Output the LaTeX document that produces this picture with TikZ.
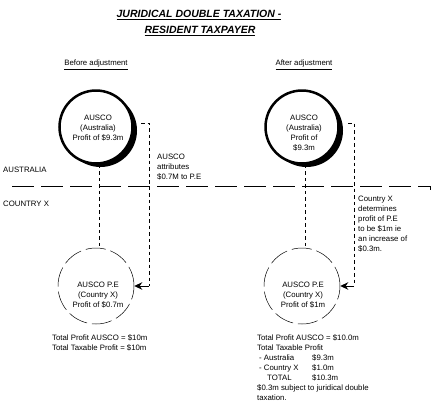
\documentclass[tikz,border=0pt]{standalone}
\usepackage{fontspec}
\setmainfont{Liberation Sans}
\usetikzlibrary{arrows.meta,positioning,shadows}
\tikzset{
  hd/.style  ={font=\fontsize{10.5}{15.5}\selectfont\bfseries\itshape, inner sep=0pt},
  sub/.style ={font=\fontsize{7.8}{10}\selectfont, inner sep=0pt},
  txt/.style ={font=\fontsize{7.8}{10}\selectfont, align=left, inner sep=0pt},
  ctr/.style ={font=\fontsize{7.8}{10}\selectfont, align=center, inner sep=0pt},
  co/.style  ={circle, draw, line width=2.5pt, fill=white, minimum size=73pt, inner sep=0pt,
                drop shadow={shadow xshift=4.5pt, shadow yshift=-3.5pt, fill=black, opacity=1}},
  pe/.style  ={circle, draw, line width=0.5pt, dash pattern=on 20pt off 5pt,
                minimum size=76pt, inner sep=0pt},
  dl/.style  ={line width=0.6pt, dash pattern=on 3.5pt off 3pt},
  fl/.style  ={-{Stealth[length=8pt,width=7.5pt]}, line width=0.9pt},
  bd/.style  ={line width=0.9pt, dash pattern=on 22pt off 7pt},
}
\begin{document}
\begin{tikzpicture}[x=1pt,y=-1pt]
\useasboundingbox (0,0) rectangle (434,410);
\node[hd, anchor=base] (t1) at (199,17.8) {\underline{JURIDICAL DOUBLE TAXATION -}};
\node[hd, anchor=base] (t2) at (200,33.3) {\underline{RESIDENT TAXPAYER}};
\node[sub, anchor=base] (h1) at (96,65.7) {\underline{Before adjustment}};
\node[sub, anchor=base] (h2) at (304,65.7) {\underline{After adjustment}};
\node[sub, anchor=west] (au) at (3,170) {AUSTRALIA};
\node[sub, anchor=west] (cx) at (3,204) {COUNTRY X};
\draw[bd] (12,186) -- (430,186);
\draw[line width=0.9pt] (430,186) -- (430,190);
\node[co] (a1) at (96,127) {};
\node[co] (a2) at (302,127) {};
\node[ctr] (a1t) at (98,128.5) {AUSCO\\(Australia)\\Profit of \$9.3m};
\node[ctr] (a2t) at (304,133) {AUSCO\\(Australia)\\Profit of\\\$9.3m};
\node[pe] (p1) at (96,286) {};
\node[pe] (p2) at (302,286) {};
\node[ctr] (p1t) at (98,295) {AUSCO P.E\\(Country X)\\Profit of \$0.7m};
\node[ctr] (p2t) at (303,295) {AUSCO P.E\\(Country X)\\Profit of \$1m};
\draw[dl] ([xshift=3pt]a1.south) -- ([xshift=3pt]p1.north);
\draw[dl] ([xshift=3pt]a2.south) -- ([xshift=3pt]p2.north);
\coordinate (b1) at (141,123);
\coordinate (k1) at (149,286);
\draw[dl] (b1) -| (k1);
\draw[fl] (k1) -- (p1.east);
\coordinate (b2) at (348,123);
\coordinate (k2) at (354,286);
\draw[dl] (b2) -| (k2);
\draw[fl] (k2) -- (p2.east);
\node[txt, anchor=north west] (n1) at (157,153.4) {AUSCO\\attributes\\\$0.7M to P.E};
\node[txt, anchor=north west] (n2) at (358,195.4) {Country X\\determines\\profit of P.E\\to be \$1m ie\\an increase of\\\$0.3m.};
\node[txt, anchor=north west] (s1) at (52,334.5) {Total Profit AUSCO = \$10m\\Total Taxable Profit = \$10m};
\node[txt, anchor=north west] (s2) at (257,334.5) {Total Profit AUSCO = \$10.0m\\
  Total Taxable Profit\\
  \makebox[55pt][l]{\hspace{2pt}- Australia}\$9.3m\\
  \makebox[55pt][l]{\hspace{2pt}- Country X}\$1.0m\\
  \makebox[55pt][l]{\hspace{10pt}TOTAL}\$10.3m\\
  \$0.3m subject to juridical double\\
  taxation.};
\end{tikzpicture}
\end{document}
